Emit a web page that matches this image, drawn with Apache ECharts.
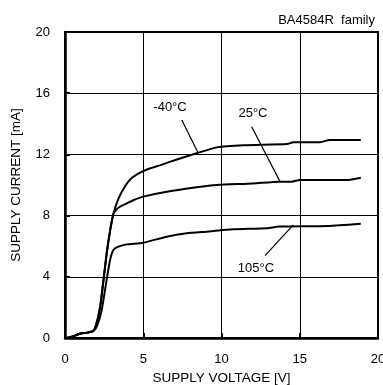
<!DOCTYPE html>
<html><head><meta charset="utf-8">
<script src="https://cdn.jsdelivr.net/npm/echarts@6/dist/echarts.min.js"></script>
<style>html,body{margin:0;padding:0;background:#fff}#c{width:383px;height:385px}</style>
</head><body><div id="c"></div>
<script>
const xTicks = [0, 5, 10, 15, 20];
const yTicks = [0, 4, 8, 12, 16, 20];
const v_m40 = [0.1,0.5,0.75,1.0,1.4,1.8,2.0,2.24,2.45,2.66,2.88,3.09,3.41,3.83,4.2,4.6,5.2,6.1,7.1,8.4,9.7,11.4,14.2,14.6,16.3,16.9,18.9];
const i_m40 = [0,0.1,0.2,0.3,0.35,0.45,0.9,2.0,3.7,5.5,7.0,8.1,9.1,9.9,10.4,10.7,11.0,11.3,11.65,12.07,12.46,12.6,12.68,12.8,12.8,12.94,12.94];
const v_25 = [0.1,0.5,0.75,1.0,1.4,1.8,2.0,2.24,2.45,2.66,2.88,3.09,3.2,3.5,4.05,4.4,5.0,6.5,8.4,9.7,12.0,13.7,14.5,15.0,18.0,18.9];
const i_25 = [0,0.1,0.2,0.3,0.35,0.45,0.9,2.0,3.7,5.5,7.0,8.1,8.3,8.58,8.85,9.02,9.24,9.56,9.85,10.0,10.1,10.22,10.22,10.33,10.33,10.48];
const v_105 = [0.1,0.5,0.75,1.0,1.4,1.8,2.05,2.34,2.66,2.88,3.09,3.41,3.94,5.0,6.5,7.78,9.05,10.75,12.9,13.7,16.8,18.9];
const i_105 = [0,0.1,0.2,0.3,0.35,0.45,0.8,1.8,3.8,5.1,5.75,5.97,6.12,6.23,6.62,6.84,6.95,7.1,7.17,7.28,7.32,7.47];
const labels = ["-40°C", "25°C", "105°C"];
const labelPos = [[6.71, 15.1], [12.01, 14.7], [12.2, 4.58]];
const leaders = [[[7.46, 14.25], [8.52, 12.07]], [[11.93, 13.81], [13.74, 10.22]], [[12.78, 5.38], [14.59, 7.39]]];
const volts = [v_m40, v_25, v_105];
const currs = [i_m40, i_25, i_105];

const font = '"Liberation Sans", Arial, sans-serif';
const chart = echarts.init(document.getElementById('c'));
const series = volts.map((v, k) => ({
  type: 'line',
  data: v.map((x, j) => [x, currs[k][j]]),
  showSymbol: false,
  smooth: 0.2,
  lineStyle: { color: '#000', width: 2 },
  z: 3,
  markLine: {
    silent: true, symbol: 'none',
    lineStyle: { color: '#000', width: 1.2, type: 'solid' },
    label: { show: false },
    data: [[{ coord: leaders[k][0] }, { coord: leaders[k][1] }]]
  },
  markPoint: {
    silent: true, symbol: 'circle', symbolSize: 0,
    label: { show: true, position: 'inside', color: '#000', fontSize: 13, fontFamily: font, formatter: labels[k] },
    data: [{ coord: labelPos[k] }]
  }
}));
chart.setOption({
  animation: false,
  title: { text: 'BA4584R  family', right: 3, top: 9, textStyle: { fontSize: 13, fontWeight: 'normal', color: '#000', fontFamily: font } },
  grid: { left: 65, right: 5, top: 32, bottom: 47, containLabel: false, outerBoundsMode: 'none', show: true, borderColor: '#000', borderWidth: 2 },
  xAxis: {
    type: 'value', min: xTicks[0], max: xTicks[xTicks.length - 1], interval: 5,
    name: 'SUPPLY VOLTAGE [V]', nameLocation: 'middle', nameGap: 32,
    nameTextStyle: { fontSize: 13.5, color: '#000', fontFamily: font },
    axisLine: { lineStyle: { color: '#000', width: 2.5 } },
    axisTick: { show: true, inside: true, length: 5, lineStyle: { color: '#000', width: 2 } },
    axisLabel: { fontSize: 13, color: '#000', fontFamily: font, margin: 15 },
    splitLine: { show: true, lineStyle: { color: '#000', width: 1 } }
  },
  yAxis: {
    type: 'value', min: yTicks[0], max: yTicks[yTicks.length - 1], interval: 4,
    name: 'SUPPLY CURRENT [mA]', nameLocation: 'middle', nameGap: 42,
    nameTextStyle: { fontSize: 13.5, color: '#000', fontFamily: font },
    axisLine: { lineStyle: { color: '#000', width: 2.5 } },
    axisTick: { show: true, inside: true, length: 5, lineStyle: { color: '#000', width: 2 } },
    axisLabel: { fontSize: 13, color: '#000', fontFamily: font, margin: 15 },
    splitLine: { show: true, lineStyle: { color: '#000', width: 1 } }
  },
  series: series
});
</script></body></html>
